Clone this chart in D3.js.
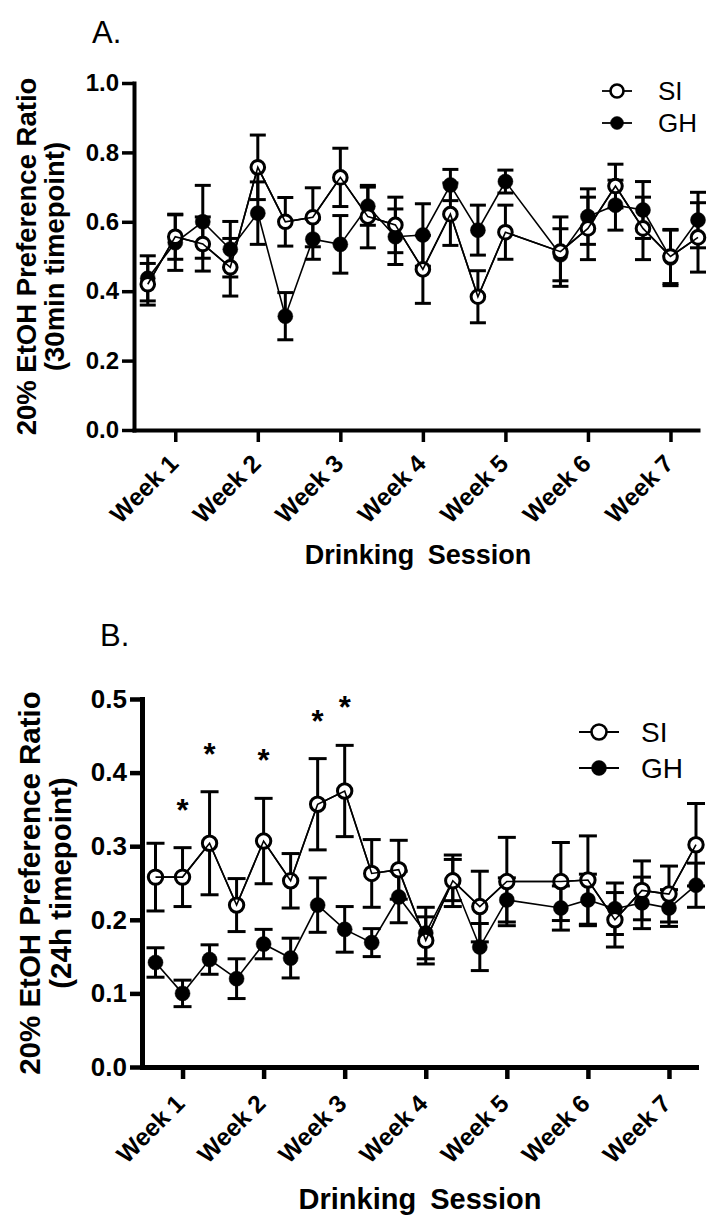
<!DOCTYPE html>
<html>
<head>
<meta charset="utf-8">
<script src="https://cdn.jsdelivr.net/npm/d3@7"></script>
<style>
  html, body { margin: 0; padding: 0; background: #fff; }
  svg { display: block; }
  text { font-family: "Liberation Sans", Arial, Helvetica, sans-serif; fill: #000; }
</style>
</head>
<body>
<svg id="chart" width="707" height="1220"></svg>
<script>
// ---- Data ----
const sessions = [0,1,2,3,4,5,6,7,8,9,10,11,12,13,15,16,17,18,19,20];
const weekTicks = [1,4,7,10,13,16,19];
const weekLabels = ["Week 1","Week 2","Week 3","Week 4","Week 5","Week 6","Week 7"];
const seriesNames = ["SI","GH"];

const yTicksA = [0,0.2,0.4,0.6,0.8,1.0];
const A_SI     = [0.420,0.557,0.536,0.469,0.757,0.600,0.613,0.728,0.615,0.591,0.463,0.622,0.384,0.570,0.514,0.581,0.703,0.581,0.500,0.555];
const A_SI_err = [0.060,0.065,0.078,0.083,0.093,0.070,0.085,0.084,0.090,0.080,0.098,0.090,0.075,0.078,0.100,0.090,0.063,0.090,0.078,0.100];
const A_GH     = [0.437,0.540,0.600,0.521,0.625,0.328,0.550,0.535,0.645,0.557,0.562,0.706,0.576,0.716,0.505,0.615,0.648,0.634,0.496,0.605];
const A_GH_err = [0.065,0.080,0.105,0.080,0.090,0.068,0.058,0.083,0.055,0.080,0.090,0.045,0.072,0.033,0.075,0.080,0.072,0.082,0.080,0.080];

const yTicksB = [0,0.1,0.2,0.3,0.4,0.5];
const B_SI     = [0.258,0.258,0.304,0.220,0.307,0.253,0.357,0.375,0.263,0.268,0.172,0.253,0.218,0.252,0.252,0.254,0.200,0.240,0.235,0.302];
const B_SI_err = [0.046,0.040,0.070,0.036,0.058,0.037,0.062,0.062,0.046,0.040,0.032,0.035,0.048,0.060,0.053,0.060,0.037,0.040,0.038,0.056];
const B_GH     = [0.142,0.100,0.146,0.120,0.167,0.148,0.220,0.187,0.169,0.231,0.182,0.254,0.163,0.227,0.216,0.227,0.215,0.223,0.216,0.247];
const B_GH_err = [0.020,0.018,0.020,0.027,0.020,0.027,0.037,0.031,0.019,0.035,0.035,0.028,0.032,0.030,0.030,0.035,0.035,0.035,0.025,0.030];
const B_stars  = [1,2,4,6,7];

// ---- Drawing ----
const svg = d3.select("#chart");

function drawPanel(cfg) {
  const g = svg.append("g");
  const x = d3.scaleLinear().domain([-0.5, 20]).range([cfg.left, cfg.right]);
  const y = d3.scaleLinear().domain([0, cfg.ymax]).range([cfg.bottom, cfg.top]);

  // panel letter
  g.append("text").attr("x", cfg.letterX).attr("y", cfg.letterY)
    .attr("font-size", 31).text(cfg.letter);

  // axes
  const yAxis = d3.axisLeft(y).tickValues(cfg.yTicks).tickFormat(d3.format(".1f"))
    .tickSizeInner(12).tickSizeOuter(0).tickPadding(3);
  const ya = g.append("g").attr("transform", `translate(${cfg.left},0)`).call(yAxis);
  const xAxis = d3.axisBottom(x).tickValues(weekTicks).tickFormat((d,i) => weekLabels[i])
    .tickSizeInner(12).tickSizeOuter(0);
  const xa = g.append("g").attr("transform", `translate(0,${cfg.bottom})`).call(xAxis);

  [ya, xa].forEach(a => {
    a.select(".domain").attr("stroke", "#000").attr("stroke-width", cfg.axisW).attr("stroke-linecap", "square");
    a.selectAll(".tick line").attr("stroke", "#000").attr("stroke-width", cfg.axisW - 0.5);
    a.selectAll(".tick text").attr("font-family", "Liberation Sans, Arial, sans-serif")
      .attr("font-weight", "bold").attr("fill", "#000");
  });
  ya.selectAll(".tick text").attr("font-size", cfg.yTickSize);
  xa.selectAll(".tick text")
    .attr("font-size", cfg.xTickSize)
    .attr("y", 0).attr("dy", null).attr("x", 0)
    .attr("text-anchor", "end")
    .attr("transform", `translate(${cfg.xLabDx},${cfg.xLabDy}) rotate(-45)`);

  // axis titles
  g.append("text").attr("x", cfg.xTitleX).attr("y", cfg.xTitleY)
    .attr("text-anchor", "middle").attr("font-weight", "bold").attr("font-size", cfg.titleSize)
    .attr("word-spacing", 6).text("Drinking Session");
  const cy = (cfg.top + cfg.bottom) / 2;
  g.append("text").attr("transform", `translate(${cfg.yLab1X},${cy}) rotate(-90)`)
    .attr("text-anchor", "middle").attr("font-weight", "bold").attr("font-size", cfg.ySize)
    .text("20% EtOH Preference Ratio");
  g.append("text").attr("transform", `translate(${cfg.yLab2X},${cy}) rotate(-90)`)
    .attr("text-anchor", "middle").attr("font-weight", "bold").attr("font-size", cfg.ySize)
    .text(cfg.yLabel2);

  const series = [
    {name: "GH", vals: cfg.gh, errs: cfg.ghErr, filled: true},
    {name: "SI", vals: cfg.si, errs: cfg.siErr, filled: false}
  ];
  const capW = cfg.capW;
  // error bars
  series.forEach(s => {
    const eb = g.append("g").attr("stroke", "#000").attr("stroke-width", 3).attr("fill", "none");
    sessions.forEach((sx, i) => {
      const cx = x(sx), hi = y(s.vals[i] + s.errs[i]), lo = y(s.vals[i] - s.errs[i]);
      eb.append("line").attr("x1", cx).attr("x2", cx).attr("y1", hi).attr("y2", lo);
      eb.append("line").attr("x1", cx - capW).attr("x2", cx + capW).attr("y1", hi).attr("y2", hi);
      eb.append("line").attr("x1", cx - capW).attr("x2", cx + capW).attr("y1", lo).attr("y2", lo);
    });
  });
  const line = d3.line().x(d => x(d[0])).y(d => y(d[1]));
  series.forEach(s => {
    const pts = sessions.map((sx, i) => [sx, s.vals[i]]);
    g.append("path").datum(pts).attr("d", line).attr("fill", "none")
      .attr("stroke", "#000").attr("stroke-width", 1.6);
    g.selectAll(null).data(pts).enter().append("circle")
      .attr("cx", d => x(d[0])).attr("cy", d => y(d[1]))
      .attr("r", s.filled ? cfg.rFill : cfg.rOpen)
      .attr("fill", s.filled ? "#000" : "#fff")
      .attr("stroke", "#000").attr("stroke-width", s.filled ? 0.5 : 3);
    if (!s.filled) {
      g.append("path").datum(pts).attr("d", line).attr("fill", "none")
        .attr("stroke", "#000").attr("stroke-width", 1.6);
    }
  });

  // stars
  if (cfg.stars) {
    cfg.stars.forEach(sx => {
      const i = sessions.indexOf(sx);
      const top = y(cfg.si[i] + cfg.siErr[i]);
      g.append("text").attr("x", x(sx)).attr("y", top - 45 + 18)
        .attr("text-anchor", "middle").attr("font-weight", "bold").attr("font-size", 31).text("*");
    });
  }

  // legend
  const L = cfg.legend;
  seriesNames.forEach((nm, k) => {
    const ly = L.y + k * L.dy;
    g.append("line").attr("x1", L.x1).attr("x2", L.x2).attr("y1", ly).attr("y2", ly)
      .attr("stroke", "#000").attr("stroke-width", 1.8);
    const filled = nm === "GH";
    g.append("circle").attr("cx", (L.x1 + L.x2) / 2).attr("cy", ly).attr("r", L.r)
      .attr("fill", filled ? "#000" : "#fff").attr("stroke", "#000").attr("stroke-width", filled ? 0.5 : 2.6);
    g.append("text").attr("x", L.tx).attr("y", ly).attr("dy", "0.36em")
      .attr("font-size", L.size).text(nm);
  });
}

drawPanel({
  letter: "A.", letterX: 92, letterY: 43,
  left: 134, right: 698, top: 83, bottom: 430, ymax: 1.0, yTicks: yTicksA,
  si: A_SI, siErr: A_SI_err, gh: A_GH, ghErr: A_GH_err,
  axisW: 4, yTickSize: 24, xTickSize: 24.5, xLabDx: 4, xLabDy: 35,
  xTitleX: 418, xTitleY: 564, titleSize: 27,
  yLab1X: 36, yLab2X: 64, ySize: 27.5, yLabel2: "(30min timepoint)",
  capW: 8, rFill: 7.5, rOpen: 6.8,
  legend: {x1: 602, x2: 632, y: 91, dy: 32, r: 6.5, tx: 658, size: 26}
});

drawPanel({
  letter: "B.", letterX: 100, letterY: 646,
  left: 142, right: 696, top: 699, bottom: 1067, ymax: 0.5, yTicks: yTicksB,
  si: B_SI, siErr: B_SI_err, gh: B_GH, ghErr: B_GH_err, stars: B_stars,
  axisW: 5, yTickSize: 26, xTickSize: 24.5, xLabDx: 3, xLabDy: 38,
  xTitleX: 420, xTitleY: 1209, titleSize: 29,
  yLab1X: 40, yLab2X: 71, ySize: 29.5, yLabel2: "(24h timepoint)",
  capW: 9, rFill: 7.5, rOpen: 7.2,
  legend: {x1: 579, x2: 619, y: 732, dy: 36, r: 7.5, tx: 641, size: 28}
});
</script>
</body>
</html>
